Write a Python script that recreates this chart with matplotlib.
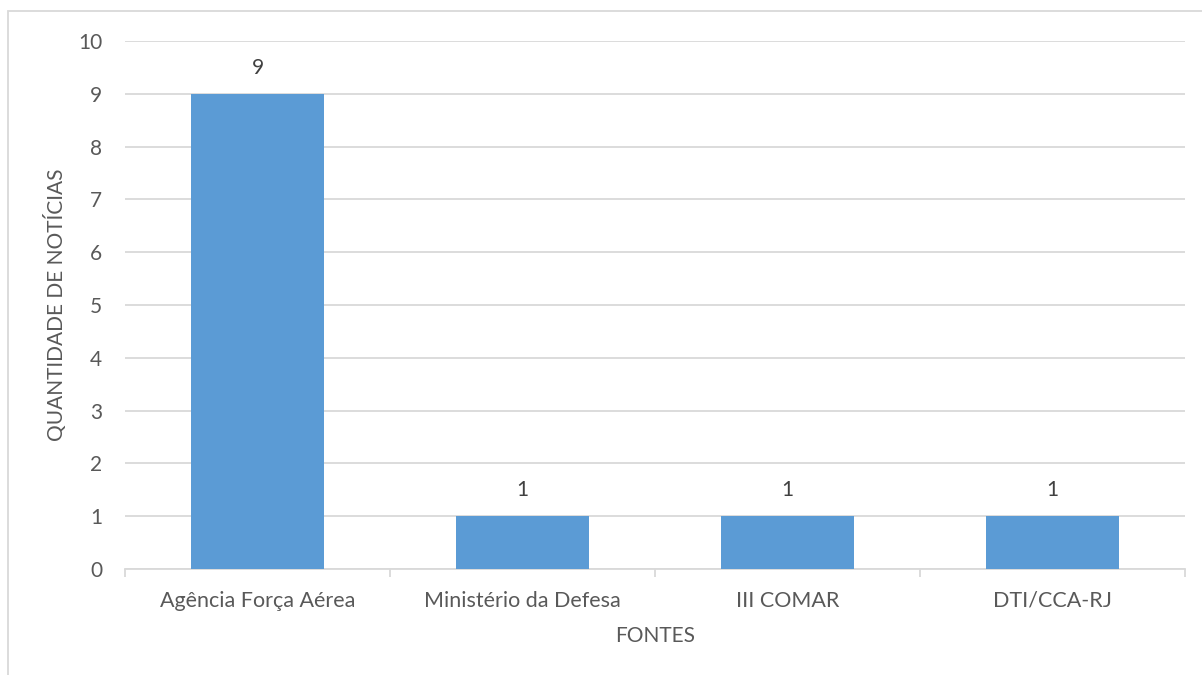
import matplotlib.pyplot as plt
import numpy as np
from matplotlib.patches import Rectangle

# Dados
fontes = ['Agência Força Aérea', 'Ministério da Defesa', 'III COMAR', 'DTI/CCA-RJ']
quantidade = [9, 1, 1, 1]
yticks = list(range(0, 11))

plt.rcParams['font.family'] = ['Lato', 'DejaVu Sans']
cor_texto = '#595959'

fig = plt.figure(figsize=(12.02, 6.75), dpi=100)
ax = fig.add_axes([125/1202, 1 - 569/675, (1185 - 125)/1202, (569 - 41)/675])

x = np.arange(len(fontes))
ax.bar(x, quantidade, width=0.5, color='#5B9BD5', zorder=3)
for xi, v in zip(x, quantidade):
    ax.text(xi, v + 0.3, str(v), ha='center', va='bottom', fontsize=15, color='#404040')

ax.set_xlim(-0.5, len(fontes) - 0.5)
ax.set_ylim(0, 10)
ax.set_yticks(yticks)
ax.yaxis.grid(True, color='#D9D9D9', linewidth=1.3, zorder=0)
ax.tick_params(axis='y', length=0, pad=16.5, labelsize=15, labelcolor=cor_texto)

ax.set_xticks(x)
ax.set_xticklabels(fontes)
ax.tick_params(axis='x', length=0, pad=15.5, labelsize=15.5, labelcolor=cor_texto)
ax.set_xticks(np.arange(-0.5, len(fontes)), minor=True)
ax.tick_params(axis='x', which='minor', length=6, color='#D9D9D9', width=1.3)

for s in ['left', 'right', 'top']:
    ax.spines[s].set_visible(False)
ax.spines['bottom'].set_color('#D9D9D9')
ax.spines['bottom'].set_linewidth(1.3)

ax.set_xlabel('FONTES', fontsize=15, color=cor_texto, labelpad=11)
ax.set_ylabel('QUANTIDADE DE NOTÍCIAS', fontsize=15, color=cor_texto, labelpad=8)

# moldura do gráfico (cortada à direita e em baixo)
fig.patches.append(Rectangle((8/1202, -0.1), 1.2, 1 - 11/675 + 0.1, transform=fig.transFigure,
                             fill=False, edgecolor='#D9D9D9', linewidth=1.3))

fig.savefig('out.png', dpi=100)
